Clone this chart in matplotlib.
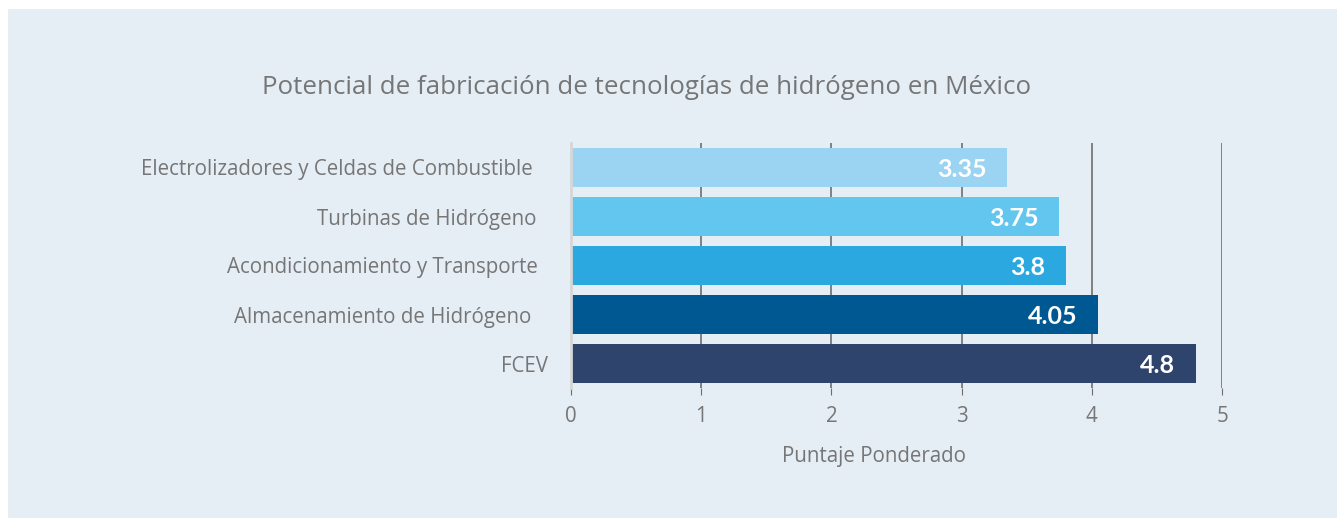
import matplotlib.pyplot as plt
import matplotlib.transforms as mtransforms
from matplotlib.patches import Rectangle

categories = ['Electrolizadores y Celdas de Combustible', 'Turbinas de Hidrógeno',
              'Acondicionamiento y Transporte', 'Almacenamiento de Hidrógeno', 'FCEV']
scores = [3.35, 3.75, 3.8, 4.05, 4.8]
value_labels = ['3.35', '3.75', '3.8', '4.05', '4.8']
bar_colors = ['#9bd4f2', '#63c6ef', '#2aa8df', '#005893', '#2e446c']
xticks = [0, 1, 2, 3, 4, 5]

bg = '#e5edf5'
txt = '#767676'

W, H = 1341, 518
fig = plt.figure(figsize=(W / 100, H / 100), dpi=100, facecolor='white')
fig.patches.append(Rectangle((8 / W, 0), (1337 - 8) / W, (H - 9) / H,
                             transform=fig.transFigure, facecolor=bg, edgecolor='none', zorder=-5))

ax = fig.add_axes([571 / W, 1 - 388 / H, (1222 - 571) / W, (388 - 143) / H])
ax.set_facecolor('none')

y = list(range(len(categories)))
ax.barh(y, scores, height=0.78, color=bar_colors, zorder=2)
ax.set_ylim(len(categories) - 0.5, -0.5)
ax.set_xlim(0, 5)

for xv in xticks[1:]:
    ax.axvline(xv, color='#6e6e6e', lw=1.2, zorder=1)

for yi, v, lab in zip(y, scores, value_labels):
    ax.text(v - 0.16, yi + 0.04, lab, ha='right', va='center', color='white',
            fontsize=18, fontweight='bold', family='Lato', zorder=3)

ax.set_yticks(y)
ax.set_yticklabels(categories, family='Open Sans', fontsize=14.8, color=txt)
ax.set_xticks(xticks)
ax.set_xticklabels([str(t) for t in xticks], family='Open Sans', fontsize=14.8, color=txt)
ax.tick_params(axis='y', length=0, pad=16.5)
ax.tick_params(axis='x', length=5, color='#6e6e6e', pad=8)

# the labels in the original do not end on one line
shifts = [-15, -12, -10, -17, 0]
for lbl, dx in zip(ax.get_yticklabels(), shifts):
    lbl.set_transform(lbl.get_transform() + mtransforms.ScaledTranslation(dx / 100, 0, fig.dpi_scale_trans))

for s in ['top', 'right', 'bottom']:
    ax.spines[s].set_visible(False)
ax.spines['left'].set_color('#d6d6d6')
ax.spines['left'].set_linewidth(2)

ax.set_xlabel('Puntaje Ponderado', family='Open Sans', fontsize=14.8, color=txt)
ax.xaxis.set_label_coords((874 - 571) / (1222 - 571), -0.235)

fig.text(647 / W, 1 - 88 / H, 'Potencial de fabricación de tecnologías de hidrógeno en México',
         ha='center', va='center', family='Open Sans', fontsize=18.6, color=txt)

fig.savefig('out.png', dpi=100, facecolor='white')
